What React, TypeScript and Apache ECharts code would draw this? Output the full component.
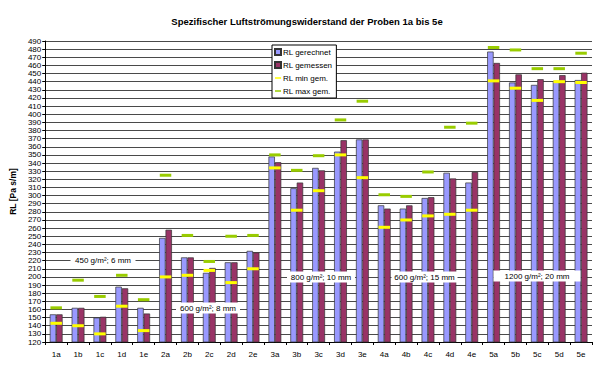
import React, { useEffect, useRef } from "react";
import * as echarts from "echarts";

const categories = ["1a","1b","1c","1d","1e","2a","2b","2c","2d","2e","3a","3b","3c","3d","3e","4a","4b","4c","4d","4e","5a","5b","5c","5d","5e"];
const gerechnet = [154,162,150,188,162, 248,224,205,218,232, 348,309,334,354,369, 288,284,297,328,316, 477,439,436,441,442];
const gemessen = [154,162,151,186,155, 258,224,211,218,230, 341,316,331,368,369, 284,288,298,321,329, 463,449,443,448,451];
const minGem = [143,140,130,164,134, 200,202,208,193,210, 334,282,306,350,322, 261,270,275,277,282, 441,432,417,440,439];
const maxGem = [162,196,176,202,172, 325,251,219,250,251, 350,331,349,393,416, 301,299,329,384,389, 482,479,456,456,475];

const groupLabels = ["450 g/m²; 6 mm", "600 g/m²; 8 mm", "800 g/m²; 10 mm", "600 g/m²; 15 mm", "1200 g/m²; 20 mm"];

const FONT = "Arial, 'Liberation Sans', sans-serif";

function annot(text: string, cx: number, cy: number, w: number) {
  return [
    { type: "rect", z: 100, shape: { x: cx - w / 2, y: cy - 5.5, width: w, height: 11 }, style: { fill: "#fff" } },
    { type: "text", z: 101, x: cx, y: cy, style: { text, fill: "#000", fontSize: 8, fontFamily: FONT, align: "center", verticalAlign: "middle" } },
  ];
}

export default function App() {
  const ref = useRef<HTMLDivElement>(null);
  useEffect(() => {
    const chart = echarts.init(ref.current!, undefined, { renderer: "svg" });
    chart.setOption({
      animation: false,
      backgroundColor: "#fff",
      textStyle: { fontFamily: FONT },
      title: {
        text: "Spezifischer Luftströmungswiderstand der Proben 1a bis 5e",
        left: 302,
        textAlign: "center",
        top: 11,
        textStyle: { fontSize: 9.5, fontWeight: "bold", color: "#000", fontFamily: FONT },
      },
      legend: {
        orient: "vertical",
        left: 272,
        top: 45,
        backgroundColor: "#fff",
        borderColor: "#000",
        borderWidth: 1,
        borderRadius: 0,
        padding: [3, 4, 3, 2],
        itemWidth: 6,
        itemHeight: 6,
        itemGap: 5,
        z: 50,
        textStyle: { fontSize: 8, color: "#000", padding: [0, 0, 0, -3], fontFamily: FONT },
        data: [
          { name: "RL gerechnet", icon: "rect" },
          { name: "RL gemessen", icon: "rect" },
          { name: "RL min gem.", icon: "path://M0,0H8V2H0Z" },
          { name: "RL max gem.", icon: "path://M0,0H8V2H0Z" },
        ],
      },
      grid: { left: 44, right: 8, top: 41, bottom: 25 },
      xAxis: {
        type: "category",
        data: categories,
        boundaryGap: true,
        axisLine: { lineStyle: { color: "#000", width: 1 } },
        axisTick: { show: true, length: 3, lineStyle: { color: "#000" } },
        axisLabel: { fontSize: 8, color: "#000", margin: 8 },
      },
      yAxis: {
        type: "value",
        min: 120,
        max: 490,
        interval: 10,
        name: "RL [Pa s/m]",
        nameLocation: "middle",
        nameGap: 27,
        nameTextStyle: { fontSize: 8.5, fontWeight: "bold", color: "#000" },
        axisLine: { show: true, lineStyle: { color: "#000", width: 1 } },
        axisTick: { show: true, length: 3, lineStyle: { color: "#000" } },
        axisLabel: { fontSize: 8, color: "#000", margin: 4 },
        splitLine: { show: true, lineStyle: { color: "#4a4a4a", width: 1 } },
      },
      series: [
        {
          name: "RL gerechnet",
          type: "bar",
          data: gerechnet,
          barWidth: 6.4,
          barGap: "0%",
          itemStyle: { color: "#9999FF", borderColor: "#333", borderWidth: 0.7 },
        },
        {
          name: "RL gemessen",
          type: "bar",
          data: gemessen,
          barWidth: 6.4,
          barGap: "0%",
          itemStyle: { color: "#993366", borderColor: "#333", borderWidth: 0.7 },
        },
        {
          name: "RL min gem.",
          type: "scatter",
          data: minGem,
          symbol: "rect",
          symbolSize: [11.5, 3],
          z: 5,
          itemStyle: { color: "#FFFF00", opacity: 1 },
        },
        {
          name: "RL max gem.",
          type: "scatter",
          data: maxGem,
          symbol: "rect",
          symbolSize: [11.5, 3],
          z: 5,
          itemStyle: { color: "#99CC00", opacity: 1 },
        },
      ],
      graphic: [
        ...annot(groupLabels[0], 103, 260, 65),
        ...annot(groupLabels[1], 208, 308, 64),
        ...annot(groupLabels[2], 321, 277, 68),
        ...annot(groupLabels[3], 424.5, 277, 66),
        ...annot(groupLabels[4], 537, 276, 87),
      ],
    });
    return () => chart.dispose();
  }, []);
  return <div ref={ref} style={{ width: 600, height: 367, position: "absolute", left: 0, top: 0 }} />;
}
